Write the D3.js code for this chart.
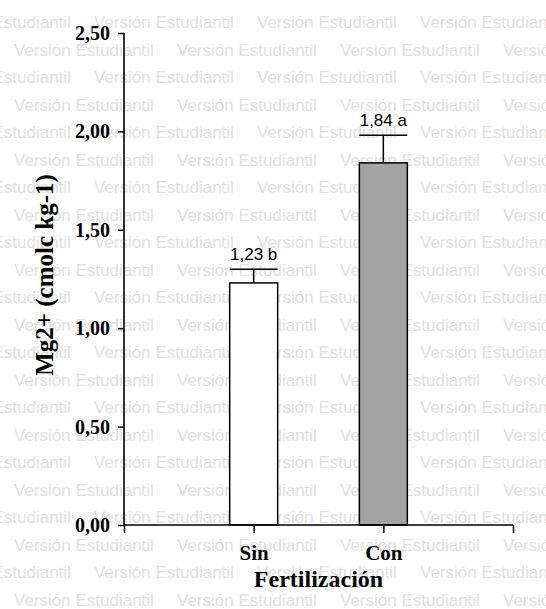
<!DOCTYPE html>
<html>
<head>
<meta charset="utf-8">
<script src="https://cdn.jsdelivr.net/npm/d3@7"></script>
<style>
  html, body { margin: 0; padding: 0; background: #ffffff; }
  svg { display: block; }
</style>
</head>
<body>
<script>
// ---- data ----
const categories = ["Sin", "Con"];
const means = [1.23, 1.84];
const errors = [0.07, 0.14];
const valueLabels = ["1,23 b", "1,84 a"];
const yTicks = [0, 0.5, 1.0, 1.5, 2.0, 2.5];
const barFills = ["#ffffff", "#a3a3a3"];
const yTitle = "Mg2+ (cmolc kg-1)";
const xTitle = "Fertilización";
const watermarkText = "Versión Estudiantil";

const W = 546, H = 609;
const svg = d3.select("body").append("svg").attr("width", W).attr("height", H);

// ---- watermark (background) ----
const wm = svg.append("g").attr("fill", "#e0e0e0")
  .attr("font-family", "Liberation Sans, Arial, sans-serif").attr("font-size", 17);
const period = 163;
for (let r = 0; r < 22; r++) {
  const yy = 28 + r * 27.5;
  const x0 = (r % 2 === 0) ? -69 : 14;
  for (let k = 0; k < 5; k++) {
    wm.append("text").attr("x", x0 + k * period).attr("y", yy).text(watermarkText);
  }
}

// ---- scales ----
const x = d3.scaleLinear().domain([0, categories.length + 1]).range([124, 513]);
const y = d3.scaleLinear().domain([0, 2.5]).range([525, 33]);
const barHalf = 0.185;

const g = svg.append("g");

// bars
g.selectAll("rect.bar").data(categories).join("rect")
  .attr("class", "bar")
  .attr("x", (d, i) => x(i + 1 - barHalf))
  .attr("width", (d, i) => x(i + 1 + barHalf) - x(i + 1 - barHalf))
  .attr("y", (d, i) => y(means[i]))
  .attr("height", (d, i) => y(0) - y(means[i]))
  .attr("fill", (d, i) => barFills[i])
  .attr("stroke", "#000").attr("stroke-width", 1.5);

// error bars
g.selectAll("line.err").data(categories).join("line")
  .attr("class", "err")
  .attr("x1", (d, i) => x(i + 1)).attr("x2", (d, i) => x(i + 1))
  .attr("y1", (d, i) => y(means[i])).attr("y2", (d, i) => y(means[i] + errors[i]))
  .attr("stroke", "#000").attr("stroke-width", 1.5);
g.selectAll("line.cap").data(categories).join("line")
  .attr("class", "cap")
  .attr("x1", (d, i) => x(i + 1 - barHalf)).attr("x2", (d, i) => x(i + 1 + barHalf))
  .attr("y1", (d, i) => y(means[i] + errors[i])).attr("y2", (d, i) => y(means[i] + errors[i]))
  .attr("stroke", "#000").attr("stroke-width", 1.5);

// value labels
g.selectAll("text.val").data(categories).join("text")
  .attr("class", "val")
  .attr("x", (d, i) => x(i + 1))
  .attr("y", (d, i) => y(means[i] + errors[i]) - 9)
  .attr("text-anchor", "middle")
  .attr("font-family", "Liberation Sans, Arial, sans-serif")
  .attr("font-size", 17).attr("fill", "#000")
  .text((d, i) => valueLabels[i]);

// ---- axes ----
const fmt = v => d3.format(".2f")(v).replace(".", ",");
const yAxis = d3.axisLeft(y).tickValues(yTicks).tickFormat(fmt).tickSize(6).tickPadding(8);
const yg = svg.append("g").attr("transform", `translate(${x(0)},0)`).call(yAxis);
yg.select(".domain").attr("d", `M0,${y(2.5)}V${y(0)}`).attr("stroke", "#000").attr("stroke-width", 1.6);
yg.selectAll(".tick line").attr("stroke", "#000").attr("stroke-width", 1.5);
yg.selectAll(".tick text")
  .attr("font-family", "Liberation Serif, Times New Roman, serif")
  .attr("font-weight", "bold").attr("font-size", 20).attr("fill", "#000");

const xTickVals = d3.range(0, categories.length + 2);
const xAxis = d3.axisBottom(x).tickValues(xTickVals)
  .tickFormat(v => (v >= 1 && v <= categories.length) ? categories[v - 1] : "")
  .tickSize(8).tickPadding(12);
const xg = svg.append("g").attr("transform", `translate(0,${y(0)})`).call(xAxis);
xg.select(".domain").attr("d", `M${x(0)},0H${x(categories.length + 1)}`).attr("stroke", "#000").attr("stroke-width", 1.6);
xg.selectAll(".tick line").attr("stroke", "#000").attr("stroke-width", 1.5);
xg.selectAll(".tick text")
  .attr("font-family", "Liberation Serif, Times New Roman, serif")
  .attr("font-weight", "bold").attr("font-size", 21).attr("fill", "#000");

// titles
svg.append("text")
  .attr("x", (x(1) + x(2)) / 2).attr("y", 587)
  .attr("text-anchor", "middle")
  .attr("font-family", "Liberation Serif, Times New Roman, serif")
  .attr("font-weight", "bold").attr("font-size", 24).attr("fill", "#000")
  .text(xTitle);

svg.append("text")
  .attr("transform", `translate(53,275) rotate(-90)`)
  .attr("text-anchor", "middle")
  .attr("font-family", "Liberation Serif, Times New Roman, serif")
  .attr("font-weight", "bold").attr("font-size", 25).attr("fill", "#000")
  .text(yTitle);
</script>
</body>
</html>
